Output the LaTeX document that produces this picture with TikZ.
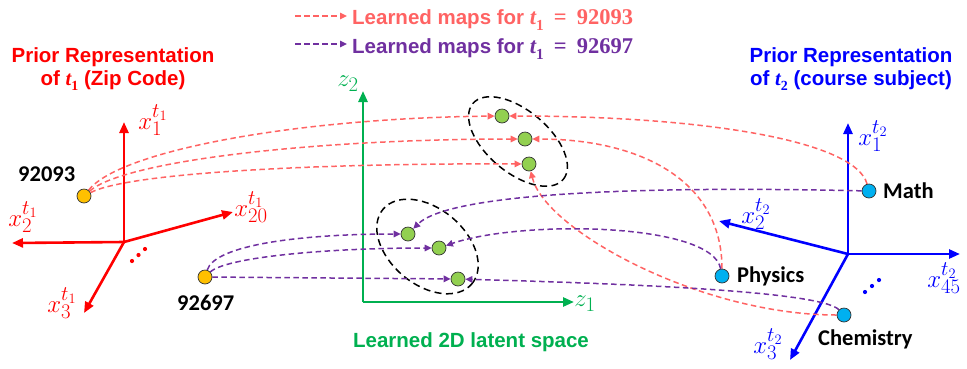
\documentclass[tikz,border=0pt]{standalone}
\usepackage{fontspec}
\usepackage{graphicx}
\usetikzlibrary{arrows.meta,shapes.geometric}
\newfontfamily\arialfont{Liberation Sans}
\newfontfamily\califont{Carlito}
\newfontfamily\seriffont{Liberation Serif}
\newcommand\tsub[1]{{\seriffont\bfseries\itshape t}\raisebox{-0.28em}{\seriffont\bfseries\scalebox{0.68}{#1}}}
\definecolor{mapred}{HTML}{FF6363}
\definecolor{mappurple}{HTML}{7030A0}
\definecolor{axred}{HTML}{FF0000}
\definecolor{axblue}{HTML}{0000FF}
\definecolor{axgreen}{HTML}{00B050}
\definecolor{dotorange}{HTML}{FFC000}
\definecolor{dotgreen}{HTML}{92D050}
\definecolor{dotcyan}{HTML}{00B0F0}
\pgfdeclarelayer{axeslayer}
\pgfdeclarelayer{maplayer}
\pgfsetlayers{axeslayer,maplayer,main}
\tikzset{
  mapline/.style={dash pattern=on 5.5pt off 3.5pt, line width=1.5pt, -{Triangle[length=7pt,width=6.5pt]}},
  redmap/.style={mapline, draw=mapred},
  purplemap/.style={mapline, draw=mappurple},
  axisline/.style={line width=2.6pt, -{Triangle[length=11pt,width=9pt]}},
  dotnode/.style={circle, draw=black!80, line width=0.7pt, minimum size=14pt, inner sep=0pt},
  titletext/.style={font=\arialfont\bfseries\fontsize{20.5}{24}\selectfont, inner sep=0pt},
  lbl/.style={font=\califont\bfseries\fontsize{22.5}{26}\selectfont, inner sep=0pt, anchor=base west},
  axlbl/.style={font=\fontsize{28}{32}\selectfont, inner sep=0pt},
  cluster/.style={draw=black, dash pattern=on 7pt off 4.5pt, line width=1.5pt, ellipse, inner sep=0pt},
}
\begin{document}
\begin{tikzpicture}[x=1pt,y=-1pt]
\useasboundingbox (0,0) rectangle (967,368);

% legend
\coordinate (lr1) at (295,16);
\coordinate (lr2) at (347,16);
\coordinate (lp1) at (295,44);
\coordinate (lp2) at (347,44);
\draw[redmap] (lr1) -- (lr2);
\draw[purplemap] (lp1) -- (lp2);
\node[titletext, text=mapred, anchor=base west] (leg1) at (352,24) {Learned maps for {\fontsize{22.5}{26}\selectfont\tsub{1}\hspace{0.45em}{\seriffont\bfseries =}\hspace{0.45em}{\seriffont\bfseries 92093}}};
\node[titletext, text=mappurple, anchor=base west] (leg2) at (352,53) {Learned maps for {\fontsize{22.5}{26}\selectfont\tsub{1}\hspace{0.45em}{\seriffont\bfseries =}\hspace{0.45em}{\seriffont\bfseries 92697}}};

% titles
\node[titletext, text=axred, anchor=base] (tl1) at (113,62) {Prior Representation};
\node[titletext, text=axred, anchor=base] (tl2) at (113,85) {of \tsub{1} (Zip Code)};
\node[titletext, text=axblue, anchor=base] (tr1) at (851,62) {Prior Representation};
\node[titletext, text=axblue, anchor=base] (tr2) at (851,85) {of \tsub{2} (course subject)};
\node[titletext, text=axgreen, anchor=base] (tm) at (471,347) {Learned 2D latent space};

% clusters
\begin{pgfonlayer}{axeslayer}
\node[cluster, minimum width=118pt, minimum height=62pt, rotate=-40] (c1) at (518,141.5) {};
\node[cluster, minimum width=116pt, minimum height=76pt, rotate=-40] (c2) at (427.5,246.5) {};
\end{pgfonlayer}

% left axes
\coordinate (o1) at (124,242);
\coordinate (l1) at (124,122);
\coordinate (l2) at (12,243);
\coordinate (l20) at (233,212);
\coordinate (l3) at (84,313);
\begin{pgfonlayer}{axeslayer}
\draw[axisline, axred] (o1) -- (l1);
\draw[axisline, axred] (o1) -- (l2);
\draw[axisline, axred] (o1) -- (l20);
\draw[axisline, axred] (o1) -- (l3);
\end{pgfonlayer}
\node[axlbl, text=axred] (lx1) at (153,120) {$x_1^{t_1}$};
\node[axlbl, text=axred] (lx2) at (23,217) {$x_2^{t_1}$};
\node[axlbl, text=axred] (lx20) at (251,207) {$x_{20}^{t_1}$};
\node[axlbl, text=axred] (lx3) at (62,303) {$x_3^{t_1}$};
\foreach \p in {(132,261),(138.5,255),(145,249)} \fill[axred] \p circle (2.1pt);

% latent axes
\coordinate (o2) at (363,302);
\coordinate (z2tip) at (363,91);
\coordinate (z1tip) at (574,302);
\begin{pgfonlayer}{axeslayer}
\draw[axisline, axgreen] (o2) -- (z2tip);
\draw[axisline, axgreen] (o2) -- (z1tip);
\end{pgfonlayer}
\node[axlbl, text=axgreen] (lz2) at (348,84) {$z_2$};
\node[axlbl, text=axgreen] (lz1) at (585,304) {$z_1$};

% right axes
\coordinate (o3) at (848,254);
\coordinate (r1) at (848,123);
\coordinate (r2) at (719,221);
\coordinate (r45) at (960,254);
\coordinate (r3) at (790,360);
\begin{pgfonlayer}{axeslayer}
\draw[axisline, axblue] (o3) -- (r1);
\draw[axisline, axblue] (o3) -- (r2);
\draw[axisline, axblue] (o3) -- (r45);
\draw[axisline, axblue] (o3) -- (r3);
\end{pgfonlayer}
\node[axlbl, text=axblue] (rx1) at (873,136) {$x_1^{t_2}$};
\node[axlbl, text=axblue] (rx2) at (756,214) {$x_2^{t_2}$};
\node[axlbl, text=axblue] (rx45) at (944,278) {$x_{45}^{t_2}$};
\node[axlbl, text=axblue] (rx3) at (768,344) {$x_3^{t_2}$};
\foreach \p in {(865,292),(872,286),(879,280)} \fill[axblue] \p circle (2.1pt);

% dots
\node[dotnode, fill=dotorange] (d92093) at (84,196) {};
\node[dotnode, fill=dotorange] (d92697) at (205,277) {};
\node[dotnode, fill=dotgreen] (g1) at (502,116) {};
\node[dotnode, fill=dotgreen] (g2) at (525,139) {};
\node[dotnode, fill=dotgreen] (g3) at (529,164) {};
\node[dotnode, fill=dotgreen] (h1) at (408,234) {};
\node[dotnode, fill=dotgreen] (h2) at (439,248) {};
\node[dotnode, fill=dotgreen] (h3) at (458,279) {};
\node[dotnode, fill=dotcyan] (math) at (869,191) {};
\node[dotnode, fill=dotcyan] (phys) at (722,276) {};
\node[dotnode, fill=dotcyan] (chem) at (844,315) {};

\begin{pgfonlayer}{maplayer}
% red maps
\draw[redmap] (d92093) .. controls +(36,-46) and +(-202,2) .. (g1);
\draw[redmap] (d92093) .. controls +(41,-36) and +(-205,0) .. (g2);
\draw[redmap] (d92093) .. controls +(46,-24) and +(-199,-1) .. (g3);
\draw[redmap] (math) .. controls +(-14,-51) and +(198,0) .. (g1);
\draw[redmap] (phys) .. controls +(0,-96) and +(115,0) .. (g2);
\draw[redmap] (chem) .. controls +(-144,0) and +(16,66) .. (g3);
% purple maps
\draw[purplemap] (d92697) .. controls +(10,-32) and +(-108,0) .. (h1);
\draw[purplemap] (d92697) .. controls +(20,-19) and +(-119,0) .. (h2);
\draw[purplemap] (d92697) -- (h3);
\draw[purplemap] (math) .. controls +(-219,-5) and +(42,-42) .. (h1);
\draw[purplemap] (phys) .. controls +(-10,-54) and +(81,-28) .. (h2);
\draw[purplemap] (chem) .. controls +(-24,-25) and +(142,4) .. (h3);
\end{pgfonlayer}

% labels
\node[lbl] (t92093) at (18,181) {92093};
\node[lbl] (t92697) at (177,310) {92697};
\node[lbl] (tmath) at (883,198) {Math};
\node[lbl] (tphys) at (737,282) {Physics};
\node[lbl] (tchem) at (818,345) {Chemistry};
\end{tikzpicture}
\end{document}
